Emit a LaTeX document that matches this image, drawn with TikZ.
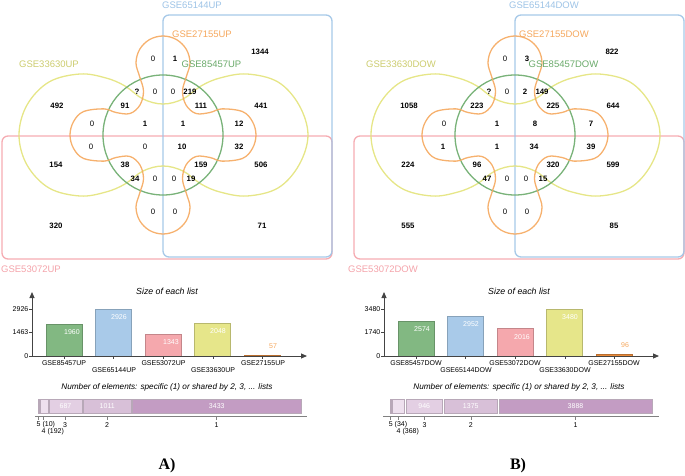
\documentclass[tikz,border=0pt]{standalone}
\usepackage{fontspec}
\setmainfont{Liberation Sans}
\newfontfamily\panelfont{Liberation Serif}
\usetikzlibrary{arrows.meta}

\definecolor{cblue}{HTML}{9DC3E6}
\definecolor{cred}{HTML}{F4A3AA}
\definecolor{cyel}{HTML}{E3E37A}
\definecolor{cgreen}{HTML}{6AAA6A}
\definecolor{corange}{HTML}{F5A85E}
\definecolor{bgreen}{HTML}{82B882}
\definecolor{bblue}{HTML}{A9CAE9}
\definecolor{bred}{HTML}{F5A8AD}
\definecolor{byel}{HTML}{E6E68A}
\definecolor{borange}{HTML}{E88A3A}
\definecolor{sone}{HTML}{C39CC3}
\definecolor{stwo}{HTML}{D8C0D8}
\definecolor{sthree}{HTML}{E3CFE3}
\definecolor{sfour}{HTML}{EEE0EE}
\definecolor{sfive}{HTML}{F3EAF3}
\definecolor{hbord}{HTML}{B8A8B8}
\definecolor{axgray}{HTML}{444444}

\tikzset{
  vshape/.style={line width=1.3pt, opacity=0.9},
  nb/.style={font=\bfseries\fontsize{7.8}{8}\selectfont, inner sep=0pt},
  zr/.style={font=\fontsize{7.8}{8}\selectfont, inner sep=0pt},
  vlab/.style={font=\fontsize{9.5}{10}\selectfont, inner sep=0pt},
  ttl/.style={font=\itshape\fontsize{8.8}{10}\selectfont, inner sep=0pt},
  ttlb/.style={font=\itshape\fontsize{8.2}{10}\selectfont, inner sep=0pt},
  tk/.style={font=\fontsize{7}{8}\selectfont, inner sep=0pt},
  axisline/.style={draw=axgray, line width=0.9pt},
  tickline/.style={draw=axgray, line width=0.6pt},
  panel/.style={font=\panelfont\bfseries\fontsize{16}{18}\selectfont, inner sep=0pt}
}

\newcommand\vennshapes{%
  \draw[vshape, draw=cred] (2,136) [rounded corners=6pt] rectangle (332,259);
  \draw[vshape, draw=cblue] (163,15) [rounded corners=6pt] rectangle (332,257);
  \draw[vshape, draw=cyel] plot[smooth cycle, tension=0.6] coordinates {
    (19,135) (27,165) (49,188) (80,196) (106,192) (125,184) (143,171) (163,166)
    (183,171) (201,184) (220,192) (247,196) (278,188) (299,165) (308,135)
    (299,105) (278,82) (247,74) (220,78) (201,86) (183,99) (163,104)
    (143,99) (125,86) (106,78) (80,74) (49,82) (27,105)};
  \draw[vshape, draw=cgreen] (163,135) circle[radius=60];
  \draw[vshape, draw=corange] plot[smooth cycle, tension=0.6] coordinates {
    (163,36) (149.5,39.6) (139.6,49.5) (136,63) (139.6,76.5)
    (143.5,91) (140,105) (130,113.5) (116,112.5)
    (104,108.9) (83.5,111.6) (73.6,121.5) (70,135) (73.6,148.5) (83.5,158.4) (104,161.1)
    (116,157.5) (130,156.5) (140,165) (143.5,179)
    (139.6,193.5) (136,207) (139.6,220.5) (149.5,230.4) (163,234) (176.5,230.4)
    (186.4,220.5) (190,207) (186.4,193.5)
    (182.5,179) (186,165) (196,156.5) (210,157.5)
    (222,161.1) (242.5,158.4) (252.4,148.5) (256,135) (252.4,121.5) (242.5,111.6) (222,108.9)
    (210,112.5) (196,113.5) (186,105) (182.5,91)
    (186.4,76.5) (190,63) (186.4,49.5) (176.5,39.6)};
}

\newcommand\vennnums[2]{%
  \foreach \x/\y/\t/\s [count=\i] in {#2} {\node[\s] (#1\i) at (\x,\y) {\t};}%
}

\begin{document}
\begin{tikzpicture}[x=1pt,y=-1pt]
\useasboundingbox (0,0) rectangle (685,476);

% ---------------- Venn A ----------------
\begin{scope}
  \vennshapes
  \node[vlab, text=cblue] (a65) at (192,5) {GSE65144UP};
  \node[vlab, text=corange] (a27) at (202,34) {GSE27155UP};
  \node[vlab, text=cgreen] (a85) at (211.5,64) {GSE85457UP};
  \node[vlab, text=cyel!90!black] (a33) at (49,64) {GSE33630UP};
  \node[vlab, text=cred] (a53) at (31,269) {GSE53072UP};
  \vennnums{va}{153/59/0/zr, 175/59/1/nb, 137/92/?/nb, 155/92/0/zr, 173/92/0/zr,
    190/92/219/nb, 260/52/1344/nb, 57/106/492/nb, 125/106/91/nb, 201/106/111/nb,
    261/106/441/nb, 92/124/0/zr, 145/124/1/nb, 183/124/1/nb, 239/124/12/nb,
    91/147/0/zr, 145/147/0/zr, 182/147/10/nb, 239/147/32/nb, 56/165/154/nb,
    125/165/38/nb, 201/165/159/nb, 261/165/506/nb, 135/179/34/nb, 155/179/0/zr,
    174/179/0/zr, 191/179/19/nb, 153/212/0/zr, 175/212/0/zr, 56/226/320/nb,
    262/226/71/nb}
\end{scope}

% ---------------- Venn B ----------------
\begin{scope}[xshift=352pt]
  \vennshapes
  \node[vlab, text=cblue] (b65) at (192,5) {GSE65144DOW};
  \node[vlab, text=corange] (b27) at (202,34) {GSE27155DOW};
  \node[vlab, text=cgreen] (b85) at (211.5,64) {GSE85457DOW};
  \node[vlab, text=cyel!90!black] (b33) at (49,64) {GSE33630DOW};
  \node[vlab, text=cred] (b53) at (31,269) {GSE53072DOW};
  \vennnums{vb}{153/59/0/zr, 175/59/3/nb, 137/92/?/nb, 155/92/0/zr, 173/92/2/nb,
    190/92/149/nb, 260/52/822/nb, 57/106/1058/nb, 125/106/223/nb, 201/106/225/nb,
    261/106/644/nb, 92/124/0/zr, 145/124/1/nb, 183/124/8/nb, 239/124/7/nb,
    91/147/1/nb, 145/147/1/nb, 182/147/34/nb, 239/147/39/nb, 56/165/224/nb,
    125/165/96/nb, 201/165/320/nb, 261/165/599/nb, 135/179/47/nb, 155/179/0/zr,
    174/179/0/zr, 191/179/15/nb, 153/212/0/zr, 175/212/0/zr, 56/226/555/nb,
    262/226/85/nb}
\end{scope}

% ---------------- Bar chart A ----------------
\node[ttl] (ta1) at (167,291) {Size of each list};
\foreach \c/\h/\col [count=\i] in {64/31.5/bgreen, 113.6/47/bblue, 163.2/21.6/bred, 212.8/32.9/byel, 262.4/0.9/borange}
  {\draw[line width=0.8pt, draw=\col!80!black, fill=\col] ({\c-18},356) rectangle ({\c+18},{356-\h});
   \draw[tickline] (\c,356) -- (\c,359);}
\foreach \x/\y/\v [count=\i] in {72/332/1960, 119/317/2926, 171/342/1343, 218/331/2048}
  {\node[tk, text=white] (av\i) at (\x,\y) {\v};}
\node[tk, text=corange] (av5) at (273,346) {57};
\coordinate (aO) at (32,356);
\coordinate (aY) at (32,292);
\coordinate (aX) at (307,356);
\draw[axisline, -{Triangle[length=6pt,width=5pt]}] (aO) -- (aY);
\draw[axisline, -{Triangle[length=6pt,width=5pt]}] (aO) -- (aX);
\draw[tickline] (29,309) -- (32,309);
\draw[tickline] (29,332.5) -- (32,332.5);
\draw[tickline] (29,356) -- (32,356);
\node[tk, anchor=east] (ay1) at (28.5,309) {2926};
\node[tk, anchor=east] (ay2) at (28.5,332.5) {1463};
\node[tk, anchor=east] (ay3) at (28.5,356) {0};
\node[tk] (ax1) at (64,363) {GSE85457UP};
\node[tk] (ax2) at (114,370.5) {GSE65144UP};
\node[tk] (ax3) at (163.5,363) {GSE53072UP};
\node[tk] (ax4) at (213,370.5) {GSE33630UP};
\node[tk] (ax5) at (263,363) {GSE27155UP};

\node[ttlb] (ta2) at (167,387) {Number of elements: specific (1) or shared by 2, 3, ... lists};
\foreach \a/\b/\col/\t [count=\i] in {38/39.2/sfive/{}, 40/48/sfour/{}, 49/82/sthree/687, 83/131.5/stwo/1011, 132.5/301/sone/3433}
  {\draw[line width=0.7pt, draw=hbord, fill=\col] (\a,399) rectangle (\b,413);
   \node[tk, text=white] (ah\i) at ({(\a+\b)/2},406) {\t};}
\coordinate (aL) at (35,416);
\coordinate (aR) at (307,416);
\draw[tickline, draw=gray] (aL) -- (aR);
\foreach \c in {38.5,43.5,65,107,216.5} {\draw[tickline, draw=gray] (\c,416) -- (\c,419.5);}
\node[tk, anchor=west] (ak5) at (36.5,425) {5 (10)};
\node[tk, anchor=west] (ak4) at (41.5,432) {4 (192)};
\node[tk] (ak3) at (65,425) {3};
\node[tk] (ak2) at (107,425) {2};
\node[tk] (ak1) at (216.5,425) {1};
\node[panel] (pA) at (167,466) {A)};

% ---------------- Bar chart B ----------------
\node[ttl] (tb1) at (519,291) {Size of each list};
\foreach \c/\h/\col [count=\i] in {416/34.8/bgreen, 465.6/39.9/bblue, 515.2/27.2/bred, 564.8/47/byel, 614.4/1.3/borange}
  {\draw[line width=0.8pt, draw=\col!80!black, fill=\col] ({\c-18},356) rectangle ({\c+18},{356-\h});
   \draw[tickline] (\c,356) -- (\c,359);}
\foreach \x/\y/\v [count=\i] in {422/329/2574, 471/324/2952, 522/337/2016, 570/317/3480}
  {\node[tk, text=white] (bv\i) at (\x,\y) {\v};}
\node[tk, text=corange] (bv5) at (625,345) {96};
\coordinate (bO) at (384,356);
\coordinate (bY) at (384,292);
\coordinate (bX) at (659,356);
\draw[axisline, -{Triangle[length=6pt,width=5pt]}] (bO) -- (bY);
\draw[axisline, -{Triangle[length=6pt,width=5pt]}] (bO) -- (bX);
\draw[tickline] (381,309) -- (384,309);
\draw[tickline] (381,332.5) -- (384,332.5);
\draw[tickline] (381,356) -- (384,356);
\node[tk, anchor=east] (by1) at (380.5,309) {3480};
\node[tk, anchor=east] (by2) at (380.5,332.5) {1740};
\node[tk, anchor=east] (by3) at (380.5,356) {0};
\node[tk] (bx1) at (416,363) {GSE85457DOW};
\node[tk] (bx2) at (466,370.5) {GSE65144DOW};
\node[tk] (bx3) at (515,363) {GSE53072DOW};
\node[tk] (bx4) at (565,370.5) {GSE33630DOW};
\node[tk] (bx5) at (614,363) {GSE27155DOW};

\node[ttlb] (tb2) at (519,387) {Number of elements: specific (1) or shared by 2, 3, ... lists};
\foreach \a/\b/\col/\t [count=\i] in {390/391.5/sfive/{}, 392/404.5/sfour/{}, 406/442.5/sthree/946, 444/497.5/stwo/1375, 499/652/sone/3888}
  {\draw[line width=0.7pt, draw=hbord, fill=\col] (\a,399) rectangle (\b,413);
   \node[tk, text=white] (bh\i) at ({(\a+\b)/2},406) {\t};}
\coordinate (bL) at (383,416);
\coordinate (bR) at (659,416);
\draw[tickline, draw=gray] (bL) -- (bR);
\foreach \c in {390.7,398.5,424.5,470.8,575.5} {\draw[tickline, draw=gray] (\c,416) -- (\c,419.5);}
\node[tk, anchor=west] (bk5) at (388.7,425) {5 (34)};
\node[tk, anchor=west] (bk4) at (396.5,432) {4 (368)};
\node[tk] (bk3) at (424.5,425) {3};
\node[tk] (bk2) at (470.8,425) {2};
\node[tk] (bk1) at (575.5,425) {1};
\node[panel] (pB) at (518,466) {B)};
\end{tikzpicture}
\end{document}
